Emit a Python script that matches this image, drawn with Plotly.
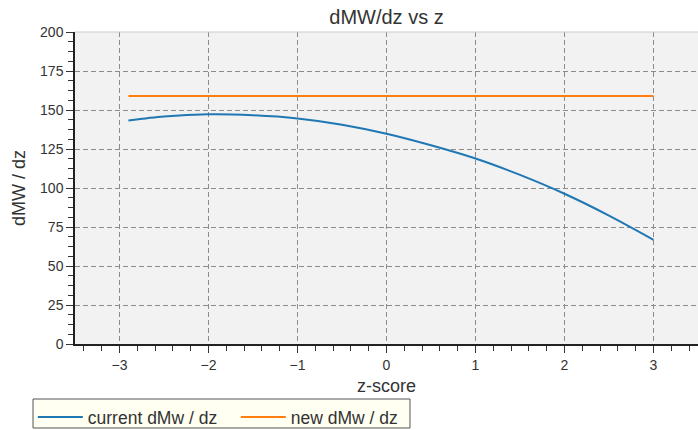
import plotly.graph_objects as go

# z-score sample points and the two derivative curves
z_current = [-2.9, -2.5, -2.0, -1.5, -1.0, -0.5, 0.0, 0.5, 1.0, 1.5, 2.0, 2.5, 3.0]
dmw_current = [143.3, 145.8, 147.2, 146.6, 144.6, 140.6, 134.8, 127.4, 118.9, 108.4, 96.3, 82.3, 66.8]

z_new = [-2.9, 3.0]
dmw_new = [159.0, 159.0]

x_ticks = [-3, -2, -1, 0, 1, 2, 3]
y_ticks = [0, 25, 50, 75, 100, 125, 150, 175, 200]

FONT = "Liberation Sans, Arial, sans-serif"
TXT = "#333333"

fig = go.Figure()
fig.add_trace(go.Scatter(
    x=z_current, y=dmw_current, mode="lines", name="current dMw / dz",
    line=dict(color="#1f77b4", width=2, shape="spline", smoothing=0.8),
))
fig.add_trace(go.Scatter(
    x=z_new, y=dmw_new, mode="lines", name="new dMw / dz",
    line=dict(color="#ff7f0e", width=2),
))

axis_common = dict(
    showgrid=True, gridcolor="#8c8c8c", gridwidth=1, griddash="5px,3px",
    zeroline=False, showline=True, linecolor="#222222", linewidth=1.5,
    ticks="outside", ticklen=7, tickwidth=1.2, tickcolor="#333333",
    tickfont=dict(family=FONT, size=14, color=TXT),
)

fig.update_layout(
    width=698, height=430,
    margin=dict(l=75, r=0, t=32, b=86, autoexpand=False),
    paper_bgcolor="white", plot_bgcolor="#f2f2f2",
    font=dict(family=FONT, color=TXT),
    title=dict(text="dMW/dz vs z", x=0.5, xref="paper", xanchor="center",
               y=0.96, yanchor="middle", font=dict(size=20, color=TXT)),
    xaxis=dict(
        range=[-3.5, 3.5], tickvals=x_ticks,
        title=dict(text="z-score", font=dict(size=18, color=TXT), standoff=8),
        minor=dict(dtick=0.2, tick0=0, ticks="outside", ticklen=5, tickcolor="#333333", showgrid=False),
        **axis_common,
    ),
    yaxis=dict(
        range=[0, 200], tickvals=y_ticks,
        title=dict(text="dMW / dz", font=dict(size=18, color=TXT), standoff=10),
        minor=dict(dtick=6.25, tick0=0, ticks="outside", ticklen=5, tickcolor="#333333", showgrid=False),
        **axis_common,
    ),
    legend=dict(
        orientation="h", xref="container", yref="container",
        x=0.047, xanchor="left", y=0.072, yanchor="top",
        entrywidth=143, itemwidth=45,
        bgcolor="rgba(0,0,0,0)", borderwidth=0,
        font=dict(family=FONT, size=17.5, color=TXT),
    ),
    showlegend=True,
)

# light frame along the top of the plotting area
fig.add_shape(type="line", xref="paper", yref="paper", x0=0, x1=1, y0=1, y1=1,
              line=dict(color="#cccccc", width=1))

# framed ivory panel behind the legend entries
fig.add_shape(type="rect", xref="paper", yref="paper",
              x0=-0.0674, x1=0.5377, y0=-0.2692, y1=-0.1763,
              fillcolor="#fffff2", line=dict(color="#555555", width=1), layer="below")

fig.write_html("out.html")
